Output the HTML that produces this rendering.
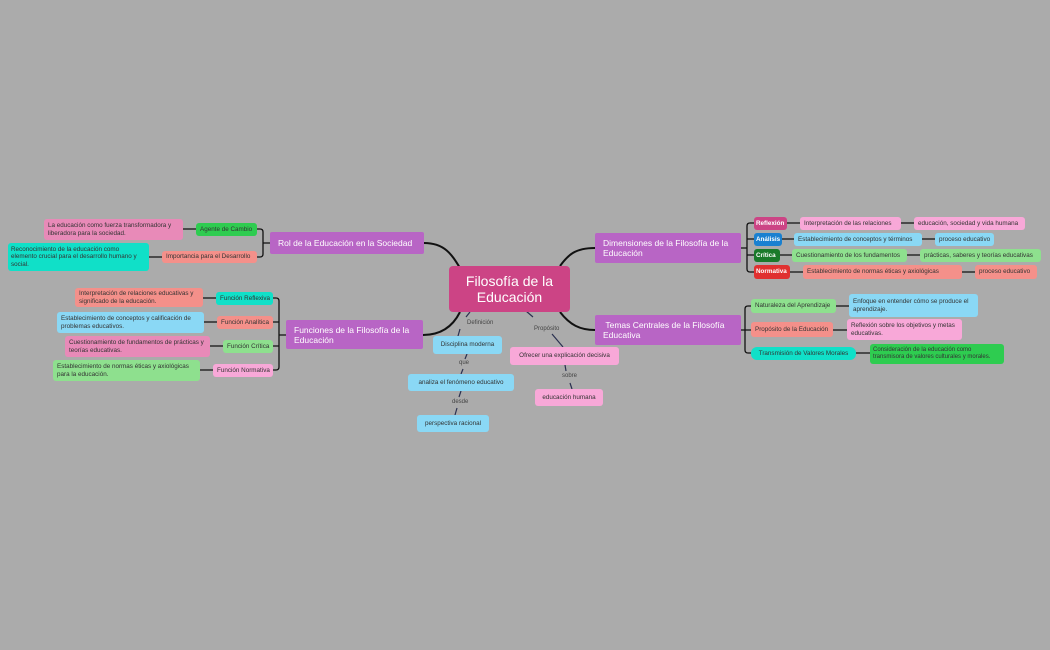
<!DOCTYPE html>
<html><head><meta charset="utf-8"><style>
body{margin:0;width:1050px;height:650px;background:#ababab;position:relative;overflow:hidden;font-family:"Liberation Sans","DejaVu Sans",sans-serif;}
.n{position:absolute;box-sizing:border-box;border-radius:3px;font-size:6.3px;line-height:7.3px;color:#333;display:flex;align-items:center;padding:0 4px;white-space:nowrap;}
.c{justify-content:center;text-align:center;}
.m{background:#b865c5;color:#fff;font-size:8.5px;line-height:10px;padding:0 8px;white-space:normal;border-radius:2px;}
.w{white-space:normal;}
.lb{position:absolute;font-size:6px;color:#444;background:#ababab;padding:0 1px;}
svg{position:absolute;left:0;top:0;}
</style></head><body>
<svg width="1050" height="650" fill="none">
<g stroke="#111" stroke-width="2">
<path d="M424,243 C445,243 452,255 460,268"/>
<path d="M423,335 C445,335 455,322 460,312"/>
<path d="M560,266 C568,255 575,248 595,248"/>
<path d="M560,312 C570,325 580,330 595,330"/>
</g>
<g stroke="#111" stroke-width="1.3">
<path d="M270,243 H263 M257,229 H260 Q263,229 263,232 V254 Q263,257 260,257 H257"/>
<path d="M196,229 H183 M162,257 H149"/>
<path d="M286,335 H279 M273,298 H276 Q279,298 279,301 V367 Q279,370 276,370 H273 M273,322 H279 M273,346 H279"/>
<path d="M216,298 H203 M217,322 H204 M223,346 H210 M213,370 H200"/>
<path d="M741,248 H747 M754,223 H750 Q747,223 747,226 V269 Q747,272 750,272 H754 M747,239 H754 M747,255 H754"/>
<path d="M787,223 H800 M901,223 H914 M782,239 H794 M922,239 H935 M780,255 H792 M907,255 H920 M790,272 H803 M962,272 H975"/>
<path d="M741,330 H745 M751,306 H748 Q745,306 745,309 V350 Q745,353 748,353 H751 M745,330 H751"/>
<path d="M836,306 H849 M833,330 H847 M856,353 H870"/>
</g>
<g stroke="#2a3050" stroke-width="1.2">
<path d="M470,312 L466,317 M460,329 L458,336"/>
<path d="M467,354 L465,359 M463,369 L461,374"/>
<path d="M461,391 L459,397 M457,408 L455,415"/>
<path d="M526,311 L533,317 M552,334 L563,347"/>
<path d="M565,365 L566,371 M570,383 L572,389"/>
</g>
</svg>

<div class="n c" style="left:449px;top:266px;width:121px;height:46px;background:#cc4485;color:#fff;font-size:14px;line-height:16px;white-space:normal;border-radius:4px">Filosofía de la Educación</div>

<div class="n m" style="left:270px;top:232px;width:154px;height:22px;white-space:nowrap">Rol de la Educación en la Sociedad</div>
<div class="n m" style="left:286px;top:320px;width:137px;height:29px">Funciones de la Filosofía de la Educación</div>
<div class="n m" style="left:595px;top:233px;width:146px;height:30px">Dimensiones de la Filosofía de la Educación</div>
<div class="n m" style="left:595px;top:315px;width:146px;height:30px">&nbsp;Temas Centrales de la Filosofía Educativa</div>

<div class="n" style="left:196px;top:223px;width:61px;height:13px;background:#2ecc50">Agente de Cambio</div>
<div class="n" style="left:162px;top:251px;width:95px;height:12px;background:#f4908a">Importancia para el Desarrollo</div>
<div class="n w" style="left:44px;top:219px;width:139px;height:21px;background:#e88ab8">La educación como fuerza transformadora y liberadora para la sociedad.</div>
<div class="n w" style="left:8px;top:243px;width:141px;height:28px;background:#10e0c8;padding:0 3px">Reconocimiento de la educación como elemento crucial para el desarrollo humano y social.</div>

<div class="n" style="left:216px;top:292px;width:57px;height:13px;background:#10e0c8">Función Reflexiva</div>
<div class="n w" style="left:75px;top:288px;width:128px;height:19px;background:#f4908a">Interpretación de relaciones educativas y significado de la educación.</div>
<div class="n" style="left:217px;top:316px;width:56px;height:13px;background:#f4908a">Función Analítica</div>
<div class="n w" style="left:57px;top:312px;width:147px;height:21px;background:#8ad8f5">Establecimiento de conceptos y calificación de problemas educativos.</div>
<div class="n" style="left:223px;top:340px;width:50px;height:13px;background:#8ee08e">Función Crítica</div>
<div class="n w" style="left:65px;top:336px;width:145px;height:21px;background:#e88ab8">Cuestionamiento de fundamentos de prácticas y teorías educativas.</div>
<div class="n" style="left:213px;top:364px;width:60px;height:13px;background:#f8a8d8">Función Normativa</div>
<div class="n w" style="left:53px;top:360px;width:147px;height:21px;background:#8ee08e">Establecimiento de normas éticas y axiológicas para la educación.</div>

<div class="n" style="left:754px;top:217px;width:33px;height:13px;background:#cc4485;color:#fff;font-weight:bold;padding:0 2px">Reflexión</div>
<div class="n" style="left:800px;top:217px;width:101px;height:13px;background:#f8a8d8">Interpretación de las relaciones</div>
<div class="n" style="left:914px;top:217px;width:111px;height:13px;background:#f8a8d8">educación, sociedad y vida humana</div>
<div class="n" style="left:754px;top:233px;width:28px;height:13px;background:#1a80d0;color:#fff;font-weight:bold;padding:0 2px">Análisis</div>
<div class="n" style="left:794px;top:233px;width:128px;height:13px;background:#8ad8f5">Establecimiento de conceptos y términos</div>
<div class="n" style="left:935px;top:233px;width:59px;height:13px;background:#8ad8f5">proceso educativo</div>
<div class="n" style="left:754px;top:249px;width:26px;height:13px;background:#1a7a2a;color:#fff;font-weight:bold;padding:0 2px">Crítica</div>
<div class="n" style="left:792px;top:249px;width:115px;height:13px;background:#8ee08e">Cuestionamiento de los fundamentos</div>
<div class="n" style="left:920px;top:249px;width:121px;height:13px;background:#8ee08e">prácticas, saberes y teorías educativas</div>
<div class="n" style="left:754px;top:265px;width:36px;height:14px;background:#e03030;color:#fff;font-weight:bold;padding:0 2px">Normativa</div>
<div class="n" style="left:803px;top:265px;width:159px;height:14px;background:#f4908a">Establecimiento de normas éticas y axiológicas</div>
<div class="n" style="left:975px;top:265px;width:62px;height:14px;background:#f4908a">proceso educativo</div>

<div class="n" style="left:751px;top:299px;width:85px;height:14px;background:#8ee08e">Naturaleza del Aprendizaje</div>
<div class="n w" style="left:849px;top:294px;width:129px;height:23px;background:#8ad8f5">Enfoque en entender cómo se produce el aprendizaje.</div>
<div class="n" style="left:751px;top:322px;width:82px;height:15px;background:#f4908a">Propósito de la Educación</div>
<div class="n w" style="left:847px;top:319px;width:115px;height:21px;background:#f8a8d8">Reflexión sobre los objetivos y metas educativas.</div>
<div class="n c" style="left:751px;top:347px;width:105px;height:13px;background:#10e0c8;border-radius:6px">Transmisión de Valores Morales</div>
<div class="n w" style="left:870px;top:344px;width:134px;height:20px;background:#2ecc50;font-size:6px;line-height:7px;padding:0 3px">Consideración de la educación como transmisora de valores culturales y morales.</div>

<div class="lb" style="left:466px;top:320px">Definición</div>
<div class="n c" style="left:433px;top:336px;width:69px;height:18px;background:#8ad8f5">Disciplina moderna</div>
<div class="lb" style="left:458px;top:360px">que</div>
<div class="n c" style="left:408px;top:374px;width:106px;height:17px;background:#8ad8f5">analiza el fenómeno educativo</div>
<div class="lb" style="left:451px;top:399px">desde</div>
<div class="n c" style="left:417px;top:415px;width:72px;height:17px;background:#8ad8f5">perspectiva racional</div>
<div class="lb" style="left:533px;top:326px">Propósito</div>
<div class="n c" style="left:510px;top:347px;width:109px;height:18px;background:#f8a8d8">Ofrecer una explicación decisiva</div>
<div class="lb" style="left:561px;top:373px">sobre</div>
<div class="n c" style="left:535px;top:389px;width:68px;height:17px;background:#f8a8d8">educación humana</div>
</body></html>
